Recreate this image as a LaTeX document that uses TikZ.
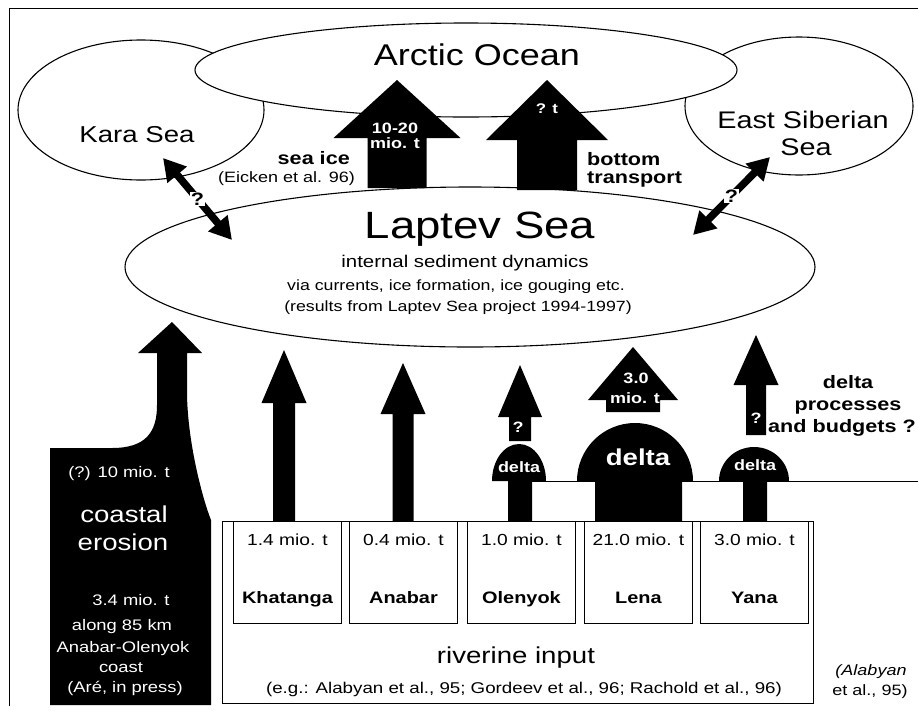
\documentclass[tikz,border=0pt]{standalone}
\usepackage{fontspec}
\setmainfont{Liberation Sans}[FakeStretch=1.2]
\usetikzlibrary{arrows.meta, shapes.geometric, positioning}

\begin{document}
\begin{tikzpicture}[
  x=1pt, y=-1pt,
  sea/.style={ellipse, draw, line width=1.1pt, fill=white, inner sep=0pt},
  txt/.style={anchor=base, inner sep=0pt, font=\fontsize{#1}{#1}\selectfont},
  btxt/.style={anchor=base, inner sep=0pt, font=\fontsize{#1}{#1}\selectfont\bfseries},
  wtxt/.style={btxt=#1, text=white},
  wlight/.style={txt=#1, text=white},
  rivbox/.style={draw, line width=0.9pt, minimum width=108pt, minimum height=102pt, anchor=north west, inner sep=0pt},
  dblarrow/.style={line width=7.5pt, {Triangle[length=22pt,width=24pt]}-{Triangle[length=22pt,width=24pt]}},
  qmark/.style={fill=white, inner sep=1pt, font=\fontsize{18}{18}\selectfont\bfseries}
]
  \useasboundingbox (0,0) rectangle (918,710);

  % frame
  \draw[line width=1pt] (918,8) -- (9,8) -- (9,706);

  % seas
  \node[sea, minimum width=246pt, minimum height=140pt] (kara) at (141,110) {};
  \node[sea, minimum width=228pt, minimum height=138pt] (ess) at (799,106) {};
  \node[sea, minimum width=542pt, minimum height=94pt] (arctic) at (466,70) {};
  \node[sea, minimum width=690pt, minimum height=160pt] (laptev) at (470,267) {};

  \node[txt=30] (arctictxt) at (477,65) {Arctic Ocean};
  \node[txt=23] (karatxt) at (137,142) {Kara Sea};
  \node[txt=24] (esstxt) at (803,128) {East Siberian};
  \node[txt=24] (esstxt2) at (806,155) {Sea};
  \node[txt=38] (laptevtxt) at (480,238) {Laptev Sea};
  \node[txt=17] (internal) at (465,267) {internal sediment dynamics};
  \node[txt=14.8] (via) at (456,290) {via currents, ice formation, ice gouging etc.};
  \node[txt=14.8] (results) at (458,311) {(results from Laptev Sea project 1994-1997)};

  % block arrows: centre / bottom / tip / shaft half width / head half width / head base
  \foreach \cx/\yb/\yt/\sw/\hw/\hb in {397/188/80/29.5/63.5/138, 547/190/80/30/61/140,
      284/521/350/11/22.5/403, 403/521/363/10.5/22.5/414, 520/441/365/11/22/417,
      633/412/347/27/45/400, 756/435/335/10/22.5/385}
    \fill (\cx-\sw,\yb) -- (\cx-\sw,\hb) -- (\cx-\hw,\hb) -- (\cx,\yt)
      -- (\cx+\hw,\hb) -- (\cx+\sw,\hb) -- (\cx+\sw,\yb) -- cycle;

  % exchange with neighbouring seas
  \coordinate (karaend) at (163,158);
  \coordinate (laptevw) at (232,240);
  \coordinate (essend) at (770,157);
  \coordinate (lapteve) at (693,235);
  \draw[dblarrow] (karaend) -- (laptevw) node[qmark, midway] {?};
  \draw[dblarrow] (essend) -- (lapteve) node[qmark, midway] {?};

  \node[btxt=18, anchor=base east] (seaice) at (350,164) {sea ice};
  \node[txt=15, anchor=base east] (eicken) at (355,182) {(Eicken et al. 96)};
  \node[btxt=18, anchor=base west] (bottom) at (587,165) {bottom};
  \node[btxt=18, anchor=base west] (transport) at (587,183) {transport};
  \node[wtxt=15] (iceval) at (395,133) {10-20};
  \node[wtxt=15] (iceval2) at (395,148) {mio. t};
  \node[wtxt=14] (botval) at (547,113) {? t};

  % coastal erosion
  \fill (50,705) -- (50,448) -- (112,448) .. controls (146,448) and (157,432) .. (157,405)
    -- (157,353) -- (138,353) -- (172,322) -- (202,353) -- (187,353) -- (187,395)
    .. controls (188,445) and (203,500) .. (211,520) -- (211,705) -- cycle;
  \node[wlight=15.3] (coastval) at (119,477) {(?) 10 mio. t};
  \node[wlight=23] (coastal) at (124,522) {coastal};
  \node[wlight=23] (erosion) at (123,550) {erosion};
  \node[wlight=15.3] (coastval2) at (131,605) {3.4 mio. t};
  \node[wlight=15.3] (along) at (122,630) {along 85 km};
  \node[wlight=15.3] (anaole) at (123,652) {Anabar-Olenyok};
  \node[wlight=15.3] (coast) at (121,672) {coast};
  \node[wlight=15.3] (are) at (125,692) {(Aré, in press)};

  % riverine input
  \draw[line width=0.9pt] (222,521) rectangle (813,703);
  \foreach \x/\nm/\val/\riv in {233/kha/1.4 mio. t/Khatanga, 349/ana/0.4 mio. t/Anabar,
      467/ole/1.0 mio. t/Olenyok, 584/len/21.0 mio. t/Lena, 700/yan/3.0 mio. t/Yana} {
    \node[rivbox] (\nm) at (\x,521) {};
    \node[txt=16] at ([yshift=-24pt]\nm.north) {\val};
    \node[btxt=16.6] at ([yshift=-82pt]\nm.north) {\riv};
  }
  \node[txt=23] (riverine) at (516,663) {riverine input};
  \node[txt=15.6] (refs) at (524,693) {(e.g.: Alabyan et al., 95; Gordeev et al., 96; Rachold et al., 96)};

  % deltas
  \draw[line width=1pt] (519,481) -- (918,481);
  \fill (508,521) -- (508,481) -- (492,481) arc[start angle=180, end angle=0, x radius=27pt, y radius=37pt]
    -- (532,481) -- (532,521) -- cycle;
  \fill (595,521) -- (595,481) -- (577,481) arc[start angle=180, end angle=0, x radius=58pt, y radius=58pt]
    -- (682,481) -- (682,521) -- cycle;
  \fill (743,521) -- (743,481) -- (719,481) arc[start angle=180, end angle=0, x radius=35pt, y radius=34pt]
    -- (767,481) -- (767,521) -- cycle;
  \node[wtxt=15] (oledelta) at (519,472) {delta};
  \node[wtxt=23] (lendelta) at (638,465) {delta};
  \node[wtxt=15] (yandelta) at (755,470) {delta};
  \node[wtxt=15] (oleq) at (518,432) {?};
  \node[wtxt=15] (yanq) at (756,423) {?};
  \node[wtxt=15] (lenval) at (636,383) {3.0};
  \node[wtxt=15] (lenval2) at (635,403) {mio. t};

  \node[btxt=18] (dproc) at (848,388) {delta};
  \node[btxt=18] (dproc2) at (848,410) {processes};
  \node[btxt=18, anchor=base east] (dproc3) at (916,432) {and budgets ?};
  \node[txt=15, font=\fontsize{15}{15}\selectfont\itshape] (alab) at (871,675) {(Alabyan};
  \node[txt=15] (alab2) at (870,695) {et al., 95)};
\end{tikzpicture}
\end{document}
